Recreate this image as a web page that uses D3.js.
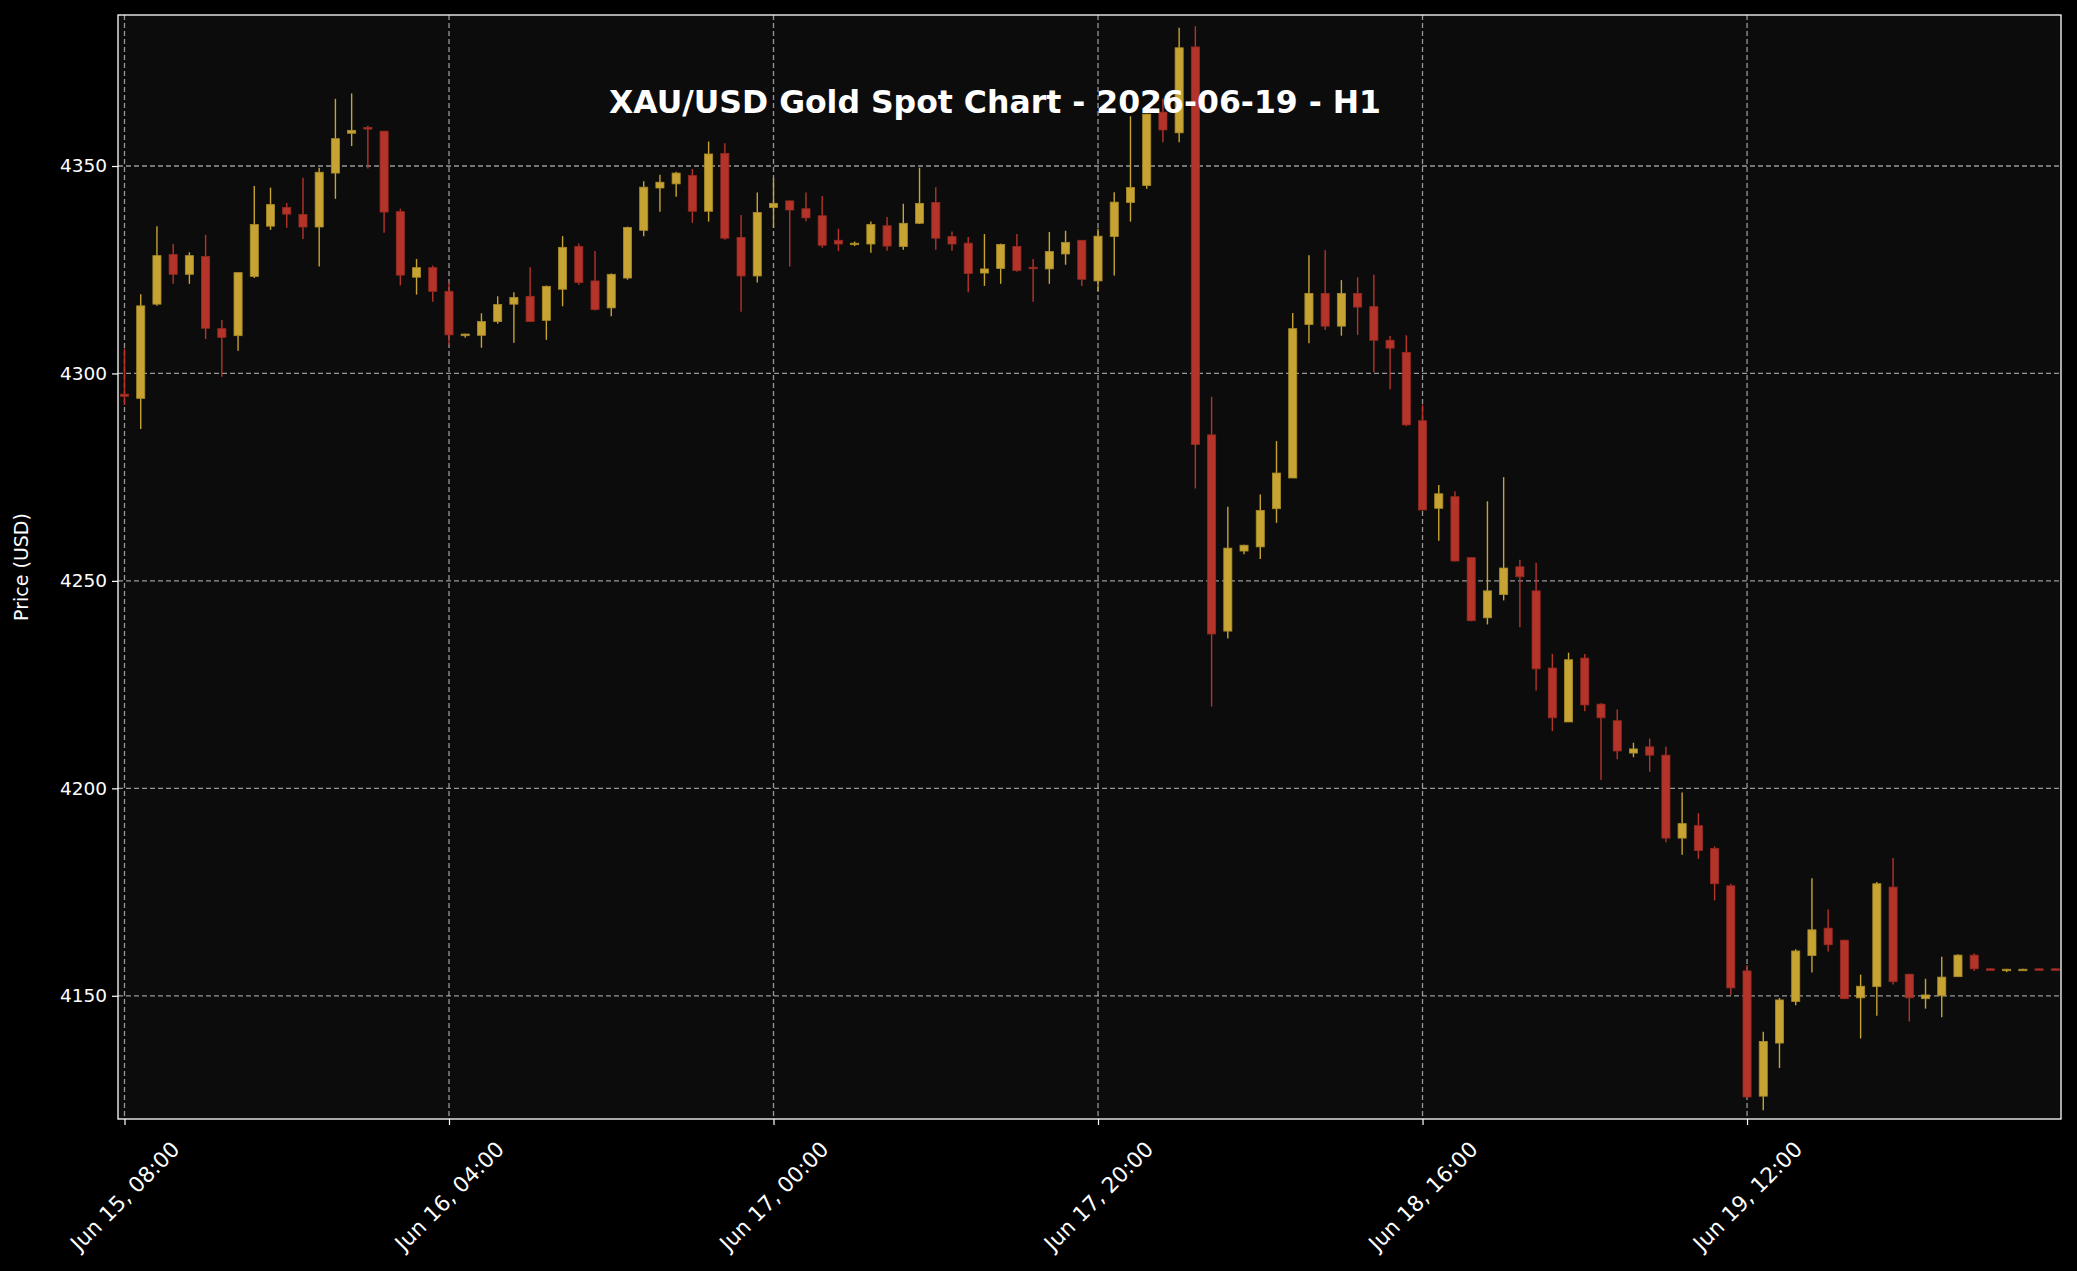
<!DOCTYPE html>
<html>
<head>
<meta charset="utf-8">
<script src="https://cdn.jsdelivr.net/npm/d3@7"></script>
<style>
body { margin: 0; background: #000; }
svg { display: block; font-family: "DejaVu Sans", sans-serif; }
</style>
</head>
<body>
<svg id="chart" width="2077" height="1271"></svg>
<script>
var opens = [4295,4294,4316.7,4328.7,4323.9,4328.2,4310.8,4309.1,4323.4,4335.5,
  4340,4338.3,4335.3,4348.3,4357.9,4359.3,4358.4,4339,4323.2,4325.5,
  4319.8,4309.1,4309.2,4312.5,4316.7,4318.6,4312.8,4320.3,4330.6,4322.3,
  4315.8,4323,4334.5,4344.7,4345.7,4347.7,4339.1,4353,4332.8,4323.5,
  4340,4341.6,4339.7,4338,4332.1,4331.2,4331.2,4335.6,4330.6,4336.2,
  4341.2,4333,4331.4,4324.2,4325.3,4330.6,4325.6,4325.2,4328.8,4332.1,
  4322.3,4333,4341.2,4345.3,4363,4358,4378.7,4285.2,4237.9,4257.2,
  4258.2,4267.4,4274.8,4311.8,4319.3,4311.4,4319.3,4316.1,4308,4305.1,
  4288.6,4267.5,4270.3,4255.6,4241.1,4246.7,4253.4,4247.6,4229,4216,
  4231.4,4220.3,4216.3,4208.5,4210,4208,4188,4191,4185.5,4176.5,
  4156,4125.8,4138.6,4148.6,4159.7,4166.3,4163.4,4149.5,4152.2,4176.2,
  4155.2,4149.3,4150,4154.6,4159.8,4156.5,4156.3,4156.3,4156.5,4156.5];

var closes = [4294.5,4316.3,4328.4,4323.9,4328.4,4310.9,4308.7,4324.3,4335.9,4340.7,
  4338.4,4335.3,4348.5,4356.6,4358.6,4358.9,4338.9,4323.7,4325.5,4319.8,
  4309.3,4309.5,4312.5,4316.6,4318.3,4312.5,4321,4330.4,4321.9,4315.4,
  4323.9,4335.2,4344.9,4346.1,4348.3,4339.1,4352.9,4332.6,4323.5,4338.8,
  4341,4339.4,4337.5,4330.9,4331.2,4331.4,4335.9,4330.7,4336.2,4341,
  4332.6,4331.2,4324.1,4325.2,4331.1,4324.8,4325.3,4329.4,4331.6,4322.7,
  4333.1,4341.3,4344.8,4362.5,4358.7,4378.5,4282.9,4237.2,4257.9,4258.6,
  4267,4276,4310.8,4319.3,4311.4,4319.3,4316,4308,4306.1,4287.6,
  4267.1,4271,4254.8,4240.4,4247.6,4253.1,4251,4228.8,4217,4231,
  4220.1,4217,4209,4209.5,4208,4188,4191.5,4185,4177,4151.9,
  4125.6,4139,4149,4160.8,4165.9,4162.3,4149.3,4152.3,4177,4153.4,
  4149.5,4150.2,4154.5,4159.8,4156.5,4156.3,4156.4,4156.4,4156.3,4156.3];

var highs = [4306,4319.1,4335.5,4331.2,4329.2,4333.4,4312.9,4324.3,4345.2,4344.8,
  4341.1,4347.2,4349.6,4366.2,4367.5,4359.7,4358.4,4339.7,4327.6,4326,
  4322,4309.6,4314.5,4318.6,4319.6,4325.6,4321.2,4333.1,4331.3,4329.5,
  4324.1,4335.4,4346.3,4347.9,4348.6,4349.3,4355.9,4355.5,4338.2,4343.6,
  4347.1,4341.6,4343.6,4342.8,4334.9,4331.8,4336.6,4337.7,4340.9,4349.6,
  4344.9,4334.2,4332.9,4333.6,4331.3,4333.6,4327.6,4334.1,4334.4,4332.1,
  4334.9,4343.7,4362,4362.6,4366.3,4383.3,4383.7,4294.4,4267.9,4258.7,
  4270.8,4283.7,4314.6,4328.5,4329.7,4322.5,4323.2,4323.8,4309,4309.2,
  4292.5,4273.1,4271.6,4255.7,4269.2,4275,4255.1,4254.4,4232.4,4232.7,
  4232.4,4220.5,4219,4211,4212,4210,4199,4194,4186,4177,
  4157.4,4141.3,4149.5,4161.2,4178.3,4170.8,4163.5,4155.1,4177.4,4183.2,
  4155.3,4154.1,4159.4,4160,4160.2,4156.6,4156.5,4156.5,4156.6,4156.6];

var lows = [4292.4,4286.6,4316.3,4321.6,4321.6,4308.3,4299.2,4305.5,4323,4334.6,
  4335.1,4332.4,4325.8,4342.1,4354.8,4349.4,4333.9,4321.2,4319,4317.3,
  4306.8,4308.6,4306.2,4312,4307.4,4312.4,4308.1,4316.2,4321.4,4315.2,
  4313.8,4322.6,4333.1,4339,4342.6,4336.3,4336.6,4332.2,4314.9,4321.9,
  4335.1,4325.8,4336.7,4330.3,4329.5,4330.7,4329.1,4329.6,4329.8,4336,
  4329.8,4329.6,4319.6,4321.1,4321.6,4324.5,4317.3,4321.6,4326.2,4321.1,
  4319.9,4323.6,4336.6,4344.5,4355.7,4355.7,4272.3,4219.7,4236.1,4256.4,
  4255.3,4264,4274.8,4307.3,4310.5,4309.1,4309.3,4300.3,4296.2,4287.3,
  4267,4259.7,4254.7,4240.3,4239.5,4245.3,4238.8,4223.6,4213.8,4216,
  4218.6,4202,4207,4207.5,4204,4187,4184,4183,4173,4150.2,
  4125.5,4122.4,4132.6,4147.7,4155.6,4160.7,4149.2,4139.7,4145.2,4152.7,
  4143.8,4146.9,4144.8,4154.5,4156,4156.2,4155.7,4156.2,4156.2,4156.2];

var xTickIndex = [0, 20, 40, 60, 80, 100];
var xTickLabels = ["Jun 15, 08:00", "Jun 16, 04:00", "Jun 17, 00:00",
                   "Jun 17, 20:00", "Jun 18, 16:00", "Jun 19, 12:00"];
var yTicks = [4150, 4200, 4250, 4300, 4350];

var W = 2077, H = 1271;
var m = {left: 118, right: 2061, top: 15, bottom: 1119};
var UP = "#c6a332", DOWN = "#b5342a";

var data = opens.map(function(o, i) {
    return {i: i, o: o, c: closes[i], h: highs[i], l: lows[i]};
});

var svg = d3.select("#chart");
svg.append("rect").attr("width", W).attr("height", H).attr("fill", "#000");
svg.append("rect")
    .attr("x", m.left).attr("y", m.top)
    .attr("width", m.right - m.left).attr("height", m.bottom - m.top)
    .attr("fill", "#0c0c0c");

var xScale = d3.scaleLinear().domain([-0.4, 119.35]).range([m.left, m.right]);
var yScale = d3.scaleLinear().domain([4120.3, 4386.4]).range([m.bottom, m.top]);
var step = xScale(1) - xScale(0);
var bw = step * 0.5;

// grid
var grid = svg.append("g").attr("stroke", "#bbbbbb").attr("stroke-opacity", 0.8)
    .attr("stroke-width", 1.3).attr("stroke-dasharray", "5,3");
grid.selectAll(".gy").data(yTicks).enter().append("line")
    .attr("x1", m.left).attr("x2", m.right)
    .attr("y1", function(d){return yScale(d);}).attr("y2", function(d){return yScale(d);});
grid.selectAll(".gx").data(xTickIndex).enter().append("line")
    .attr("y1", m.top).attr("y2", m.bottom)
    .attr("x1", function(d){return xScale(d);}).attr("x2", function(d){return xScale(d);});

// candles
var candles = svg.append("g").selectAll("g").data(data).enter().append("g");
candles.append("line")
    .attr("x1", function(d){return xScale(d.i);}).attr("x2", function(d){return xScale(d.i);})
    .attr("y1", function(d){return yScale(d.h);}).attr("y2", function(d){return yScale(d.l);})
    .attr("stroke", function(d){return d.c >= d.o ? UP : DOWN;})
    .attr("stroke-width", 1.4);
candles.append("rect")
    .attr("x", function(d){return xScale(d.i) - bw / 2;})
    .attr("width", bw)
    .attr("y", function(d){return yScale(Math.max(d.o, d.c));})
    .attr("height", function(d){return Math.max(1.5, Math.abs(yScale(d.o) - yScale(d.c)));})
    .attr("fill", function(d){return d.c >= d.o ? UP : DOWN;})
    .attr("stroke", function(d){return d.c >= d.o ? "#a88a28" : "#962a22";})
    .attr("stroke-width", 0.8);

// axes
var yAxis = d3.axisLeft(yScale).tickValues(yTicks).tickSize(6).tickPadding(5)
    .tickFormat(d3.format("d"));
var gy = svg.append("g").attr("transform", "translate(" + m.left + ",0)").call(yAxis);
gy.select(".domain").remove();
gy.selectAll("line").attr("stroke", "#fff").attr("stroke-width", 1.2);
gy.selectAll("text").attr("fill", "#fff").style("font-size", "18.5px")
    .style("font-family", "DejaVu Sans");

var xAxis = d3.axisBottom(xScale).tickValues(xTickIndex).tickSize(6)
    .tickFormat(function(d, i){return xTickLabels[i];});
var gx = svg.append("g").attr("transform", "translate(0," + m.bottom + ")").call(xAxis);
gx.select(".domain").remove();
gx.selectAll("line").attr("stroke", "#fff").attr("stroke-width", 1.2);
gx.selectAll("text").attr("fill", "#fff").style("font-size", "21.5px")
    .style("font-family", "DejaVu Sans")
    .style("text-anchor", "middle")
    .attr("y", 0).attr("dy", "0.35em")
    .attr("transform", "translate(0,77) rotate(-45)");

// frame
svg.append("rect")
    .attr("x", m.left).attr("y", m.top)
    .attr("width", m.right - m.left).attr("height", m.bottom - m.top)
    .attr("fill", "none").attr("stroke", "#fff").attr("stroke-width", 1.3);

svg.append("text")
    .attr("transform", "translate(28," + ((m.top + m.bottom) / 2) + ") rotate(-90)")
    .attr("text-anchor", "middle").attr("fill", "#fff")
    .style("font-size", "19px").text("Price (USD)");

svg.append("text")
    .attr("x", 995).attr("y", 113)
    .attr("text-anchor", "middle").attr("fill", "#fff")
    .style("font-size", "31.5px").style("font-weight", "bold")
    .text("XAU/USD Gold Spot Chart - 2026-06-19 - H1");
</script>
</body>
</html>
